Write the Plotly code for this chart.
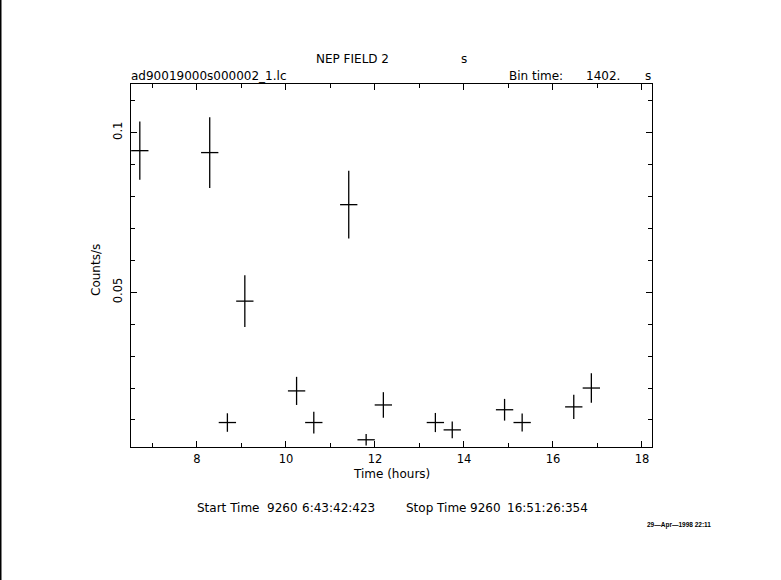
import plotly.graph_objects as go

# Data
time_hours = [6.715, 8.286, 8.683, 9.075, 10.238, 10.625, 11.41, 11.801, 12.188,
              13.357, 13.736, 14.912, 15.307, 16.467, 16.862]
rate = [0.0943, 0.0937, 0.0092, 0.0472, 0.0191, 0.0092, 0.0774, 0.0038, 0.0147,
        0.0092, 0.0069, 0.0132, 0.0092, 0.0141, 0.0200]
rate_err = [0.0091, 0.0111, 0.0029, 0.0081, 0.0044, 0.0034, 0.0106, 0.0018, 0.0040,
            0.0030, 0.0026, 0.0034, 0.0028, 0.0038, 0.0046]
half_bin_hours = 0.1947

x_range = [6.517, 18.225]
y_range = [0.00154, 0.11517]
x_ticks = [8, 10, 12, 14, 16, 18]
y_ticks = [0.05, 0.1]
y_tick_labels = ["0.05", "0.1"]

W, H = 781, 580
L, R, T, B = 131, 129, 84, 133
PW, PH = W - L - R, H - T - B
FONT = "DejaVu Sans, Liberation Sans, sans-serif"


def px(x):
    return (x - L) / PW


def py(y):
    return (H - B - y) / PH


fig = go.Figure()
fig.add_trace(go.Scatter(
    x=time_hours, y=rate, mode="markers",
    marker=dict(size=1, color="rgba(0,0,0,0)"),
    error_y=dict(type="data", array=rate_err, visible=True, color="black",
                 thickness=1.3, width=0),
    error_x=dict(type="constant", value=half_bin_hours, visible=True, color="black",
                 thickness=1.3, width=0),
    showlegend=False, hoverinfo="skip",
))

axis_common = dict(
    showline=True, linecolor="black", linewidth=1.3, mirror="allticks",
    ticks="inside", tickcolor="black", tickwidth=1, showgrid=False, zeroline=False,
    tickfont=dict(family=FONT, size=11.5, color="black"),
)
fig.update_xaxes(range=x_range, tickvals=x_ticks, ticklen=6,
                 minor=dict(dtick=1, tick0=0, ticks="inside", ticklen=4,
                            tickcolor="black", showgrid=False),
                 ticklabelstandoff=1, **axis_common)
fig.update_yaxes(range=y_range, tickvals=y_ticks, ticktext=y_tick_labels, ticklen=6,
                 tickangle=-90,
                 minor=dict(dtick=0.01, tick0=0, ticks="inside", ticklen=4,
                            tickcolor="black", showgrid=False),
                 ticklabelstandoff=3, **axis_common)

texts = [
    ("NEP FIELD 2", 314, 59, "left", 12),
    ("s", 464, 59, "center", 12),
    ("ad90019000s000002_1.lc", 129, 76, "left", 12),
    ("Bin time:", 507, 76, "left", 12),
    ("1402.", 584, 76, "left", 12),
    ("s", 648, 76, "center", 12),
    ("Time (hours)", 391, 474, "center", 12),
    ("Start Time", 195, 508, "left", 12),
    ("9260", 265, 508, "left", 12),
    ("6:43:42:423", 300, 508, "left", 12),
    ("Stop Time", 404, 508, "left", 12),
    ("9260", 468, 508, "left", 12),
    ("16:51:26:354", 505, 508, "left", 12),
]
for txt, x, y, anchor, size in texts:
    fig.add_annotation(text=txt, x=px(x), y=py(y), xref="paper", yref="paper",
                       xanchor=anchor, yanchor="middle", showarrow=False,
                       font=dict(family=FONT, size=size, color="black"))

fig.add_annotation(text="<b>29\u2014Apr\u20141998 22:11</b>", x=px(645), y=py(525),
                   xref="paper", yref="paper", xanchor="left", yanchor="middle",
                   showarrow=False,
                   font=dict(family="Liberation Sans, Arial, sans-serif", size=6.5,
                             color="black"))

fig.add_annotation(text="Counts/s", x=px(96), y=py(270), xref="paper", yref="paper",
                   xanchor="center", yanchor="middle", showarrow=False, textangle=-90,
                   font=dict(family=FONT, size=12, color="black"))

# left edge black border line
fig.add_shape(type="line", xref="paper", yref="paper", x0=px(0.75), x1=px(0.75),
              y0=py(0), y1=py(H), line=dict(color="black", width=1.5))

fig.update_layout(width=W, height=H, margin=dict(l=L, r=R, t=T, b=B),
                  paper_bgcolor="white", plot_bgcolor="white")

fig.write_html("out.html", config={"displayModeBar": False},
               post_script="document.body.style.margin='0';document.body.style.padding='0';")
